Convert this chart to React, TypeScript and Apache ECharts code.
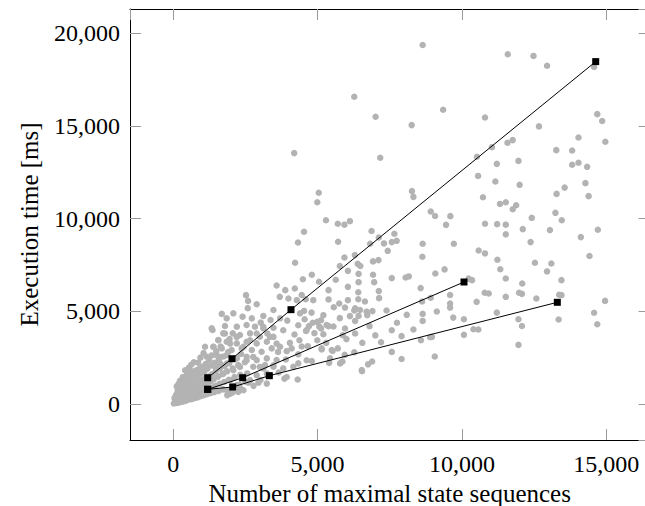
import React, { useEffect, useRef } from "react";
import * as echarts from "echarts";

// Scatter: runs (x = number of maximal state sequences, y = execution time ms)
const scatterHigh: [number, number][] = [
  [8640,19360],[11590,18860],[12480,18770],[12950,18240],[14580,18170],[6270,16570],[9350,15870],[7010,15490],
  [10800,15450],[8260,15040],[14690,15630],[14860,15260],[12670,14970],[14040,14370],[14970,14140],[11580,14090],
  [11760,14230],[11040,13850],[4190,13530],[13270,13690],[13820,13670],[7170,13280],[10520,13330],[11210,12950],
  [11960,13110],[13820,12900],[14040,13010],[14340,12790],[10560,12300],[11160,12000],[12000,11820],[14280,11910],
  [13560,11670],[13280,11330],[14390,11210],[5040,11390],[4990,10880],[8270,11480],[8320,11170],[10730,11150],
  [11320,10790],[11520,10880],[11880,10720],[11760,10500],[13240,10310],[8920,10380],[9070,10140],[9600,10130],
  [12420,10040],[13460,9910],[5290,9910],[6120,9860],
];

const scatterMid: [number, number][] = [
  [5700,9720],[5930,9670],[4530,9290],[6870,9330],[7660,9180],[10800,9720],[11220,9700],[11520,9670],[11520,9150],
  [12110,9430],[13050,9380],[14710,9400],[14120,9000],[4320,8710],[5710,8750],[6820,8640],[7120,8980],[7300,8660],
  [7570,8730],[7740,8800],[7430,8260],[8640,8640],[9720,8640],[12380,8730],[10580,8280],[10800,8120],[8630,7940],
  [14420,7980],[4220,7620],[6290,8030],[5930,7900],[5770,7440],[6390,7560],[6480,7440],[6920,7690],[7110,7760],
  [11230,7780],[11330,7270],[12530,7620],[13100,7580],[12950,7150],[6050,7180],[6420,7020],[6920,6970],[8050,6820],
  [8160,6880],[7570,6790],[9080,7040],[9400,7260],[11520,6770],[13450,6680],[10350,6680],[10230,6760],[3580,6390],
  [3880,6140],[4210,6230],[4490,6730],[4800,6970],[5050,6590],[5630,6700],[5380,6140],[6050,6320],[6420,6570],
  [6960,6570],[6410,6030],[7120,6090],[8570,6250],[12090,6500],[10790,6000],[10930,5960],[11520,5780],[11980,6000],
  [12080,5940],[12580,5690],[13370,5890],[13450,5870],[14960,5560],[14580,4920],[14690,4300],[9450,9660],[9590,5880],
];

const scatterLow: [number, number][] = [
  [2520,5870],[2590,5560],[2580,5170],[2890,5380],[3690,5780],[3990,5690],[4280,5600],[4590,5650],[4850,5600],
  [5380,5640],[5560,5220],[5750,5420],[6050,5600],[5950,5200],[6410,5650],[6640,5530],[7130,5710],[8620,5530],
  [8920,5730],[9590,5420],[9590,5200],[10510,5510],[11210,4930],[11960,4570],[12080,4210],[13350,4560],[11960,3190],
  [10570,4020],[10400,4030],[10070,3730],[10070,4570],[9700,4660],[9130,4990],[8640,4860],[8640,4480],[8320,4020],
  [8090,4810],[7910,3660],[7750,4380],[7570,3980],[7390,5040],[7200,3330],[7570,2810],[7910,2430],[9060,2560],
  [8580,3440],[8900,3600],[8960,3620],[6900,5010],[6720,4790],[6420,4750],[6270,5040],[6120,4740],[6300,4480],
  [5770,4630],[5200,4790],[5120,4520],[4990,4430],[4830,4380],[4550,4570],[4330,4250],[4600,3940],[4890,3820],
  [5120,4070],[5200,3760],[5380,4200],[5550,4180],[5950,4070],[5870,3710],[6300,3800],[4990,3440],[5140,2940],
  [4660,3120],[4370,3440],[4040,3300],[3810,3980],[3470,4110],[3260,3800],[3470,3620],[3630,2810],[3930,2850],
  [4330,2680],[4620,2360],[4800,2320],[5400,2220],[5860,2290],[5940,2650],[5520,2860],[6270,2790],[6540,1770],
  [6750,2140],[6890,2290],[3850,1370],[3930,1460],[4310,1320],[3240,1100],[2950,1150],[2600,1150],[1970,560],
  [2250,650],[3470,5070],[3700,4620],[3700,3090],[3580,2370],[3810,1920],[4160,2010],[4330,2190],[4620,3990],
  [4390,4890],[4450,5880],[5140,3000],[5490,2910],[5430,2460],[5780,2190],[6530,1830],[3350,1560],[3180,2100],
  [4790,4930],[4530,5020],[5060,4170],[5310,4260],[6300,5160],[6470,5070],[6700,4980],
];

const scatterNear: [number, number][] = [
  [1680,4860],[2080,4890],[1850,4620],[2400,4710],[2720,4620],[3120,4750],[3370,4530],[3030,4390],[2830,4170],
  [3120,4080],[2540,4260],[2200,4170],[2060,3810],[1730,3810],[1360,3990],[2310,3720],[2660,3810],[3000,3630],
  [3240,3360],[2890,3270],[2540,3360],[2200,3270],[1850,3360],[1560,3450],[1100,3090],[1390,3090],[1680,3000],
  [2020,2910],[2370,3000],[2720,2910],[3060,2820],[3410,3000],[3240,2460],[2890,2370],[2540,2550],[2200,2460],
  [1850,2640],[1500,2640],[1160,2550],[1620,2190],[2770,2010],[3120,1920],[3470,2010],[1330,4080],[1790,4210],
  [1390,3080],[1560,3440],[1790,3800],[1970,3260],[2200,3620],[2430,3080],[2660,3440],[2890,3800],[3120,4160],
  [3350,3620],[3580,3260],[1620,2540],[1850,2180],[2080,1820],[2310,2000],[2540,2360],[2770,2540],[3000,2000],
  [3240,1640],[3470,2090],[2660,1280],[2890,1550],[1450,2000],[1730,1640],[1970,1280],[2200,1010],[2430,740],
  [1870,480],[2050,620],[2320,860],[2780,980],[3020,1300],[3650,1700],[3900,2400],[4100,3000],[4450,3100],
  [4200,3750],[3950,4500],[4700,4200],[5300,3300],[5700,3000],[6000,3500],[6550,3300],[6800,4200],[7000,3700],
];

const scatterCluster: [number, number][] = [
  [20,30],[60,150],[40,320],[110,60],[130,260],[90,480],[150,720],[120,950],[180,1080],
  [210,90],[240,330],[200,560],[260,820],[230,1250],
  [320,130],[300,400],[350,640],[310,900],[370,1150],[330,1450],
  [420,170],[440,430],[400,700],[460,980],[430,1280],[480,1620],[410,1820],
  [520,230],[560,470],[510,760],[570,1060],[530,1370],[590,1680],[540,1960],
  [630,260],[650,530],[610,820],[670,1120],[640,1430],[690,1770],[620,2120],
  [730,310],[760,580],[720,870],[780,1170],[740,1490],[800,1820],[710,2250],
  [840,360],[870,620],[820,920],[880,1240],[850,1560],[900,1900],[860,2230],
  [950,420],[980,680],[930,980],[990,1320],[960,1650],[1010,2010],[940,2500],
  [1060,470],[1090,740],[1040,1050],[1100,1380],[1070,1750],[1120,2150],[1050,2750],
  [1170,530],[1200,820],[1160,1120],[1220,1480],[1180,1900],[1240,2380],
  [1290,590],[1320,880],[1280,1220],[1340,1600],[1300,2080],[1330,2620],
  [1420,640],[1450,980],[1400,1340],[1470,1760],[1430,2220],[1490,2850],
  [1570,700],[1600,1090],[1550,1480],[1620,1920],[1580,2420],[1640,3100],
  [1720,790],[1760,1190],[1700,1610],[1780,2060],[1740,2560],
  [1880,700],[1920,1310],[1860,1760],[1940,2200],[1900,2800],[1950,3500],
  [2080,940],[2120,1450],[2060,1920],[2150,2450],
  [2280,1050],[2320,1570],[2250,2100],[2350,2700],
  [2500,1200],[2560,1650],[2480,2250],
];

// Black lines with square markers
const lineTop: [number, number][] = [[1192,1418],[2034,2443],[4078,5087],[14636,18463]];
const lineMiddle: [number, number][] = [[1192,793],[2404,1418],[10073,6580]];
const lineBottom: [number, number][] = [[1192,793],[2058,917],[3327,1527],[13306,5485]];

const xTicks = [0, 5000, 10000, 15000];
const yTicks = [0, 5000, 10000, 15000, 20000];

const FONT = "'Liberation Serif', 'Times New Roman', serif";
const fmt = (v: number) => v.toLocaleString("en-US");

export default function App() {
  const ref = useRef<HTMLDivElement>(null);
  useEffect(() => {
    if (!ref.current) return;
    const chart = echarts.init(ref.current, null, { renderer: "svg" });
    const tickStyle = { show: true, inside: true, length: 11, lineStyle: { color: "#9a9a9a", width: 1 } };
    const xBase = {
      type: "value" as const,
      min: -1500,
      max: 16500,
      splitNumber: 4,
      minInterval: 5000,
      maxInterval: 5000,
      splitLine: { show: false },
      axisLine: { show: true, onZero: false, lineStyle: { color: "#000", width: 1 } },
      axisTick: tickStyle,
    };
    const yBase = {
      type: "value" as const,
      min: -1940,
      max: 21300,
      splitNumber: 4,
      minInterval: 5000,
      maxInterval: 5000,
      splitLine: { show: false },
      axisLine: { show: true, onZero: false, lineStyle: { color: "#000", width: 1 } },
      axisTick: tickStyle,
    };
    const labelFmt = (ticks: number[]) => (v: number) => (ticks.includes(v) ? fmt(v) : "");
    const lineSeries = (data: [number, number][]) => ({
      type: "line",
      data,
      symbol: "rect",
      symbolSize: 7,
      showSymbol: true,
      itemStyle: { color: "#000" },
      lineStyle: { color: "#000", width: 1 },
      z: 5,
      silent: true,
    });
    chart.setOption({
      animation: false,
      grid: { left: 130, top: 9, right: -4.5, bottom: 66, outerBoundsMode: "none", containLabel: false },
      xAxis: [
        {
          ...xBase,
          position: "bottom",
          name: "Number of maximal state sequences",
          nameLocation: "middle",
          nameGap: 37,
          nameTextStyle: { fontFamily: FONT, fontSize: 25, color: "#000", lineHeight: 26 },
          axisLabel: {
            show: true,
            margin: 12,
            fontFamily: FONT,
            fontSize: 24,
            color: "#000",
            showMinLabel: false,
            showMaxLabel: false,
            formatter: labelFmt(xTicks),
          },
        },
        { ...xBase, position: "top", axisLabel: { show: false } },
      ],
      yAxis: [
        {
          ...yBase,
          position: "left",
          name: "Execution time [ms]",
          nameLocation: "middle",
          nameGap: 88,
          nameTextStyle: { fontFamily: FONT, fontSize: 25, color: "#000" },
          axisLabel: {
            show: true,
            margin: 10,
            fontFamily: FONT,
            fontSize: 24,
            color: "#000",
            showMinLabel: false,
            showMaxLabel: false,
            formatter: labelFmt(yTicks),
          },
        },
        { ...yBase, position: "right", axisLabel: { show: false } },
      ],
      series: [
        {
          type: "scatter",
          data: [...scatterCluster, ...scatterNear, ...scatterLow, ...scatterMid, ...scatterHigh],
          symbol: "circle",
          symbolSize: 6.5,
          itemStyle: { color: "#b3b3b3", opacity: 1 },
          silent: true,
          z: 2,
        },
        lineSeries(lineTop),
        lineSeries(lineMiddle),
        lineSeries(lineBottom),
      ],
    });
    return () => chart.dispose();
  }, []);
  return (
    <div
      ref={ref}
      style={{ position: "fixed", left: 0, top: 0, width: 645, height: 506, background: "#fff" }}
    />
  );
}
